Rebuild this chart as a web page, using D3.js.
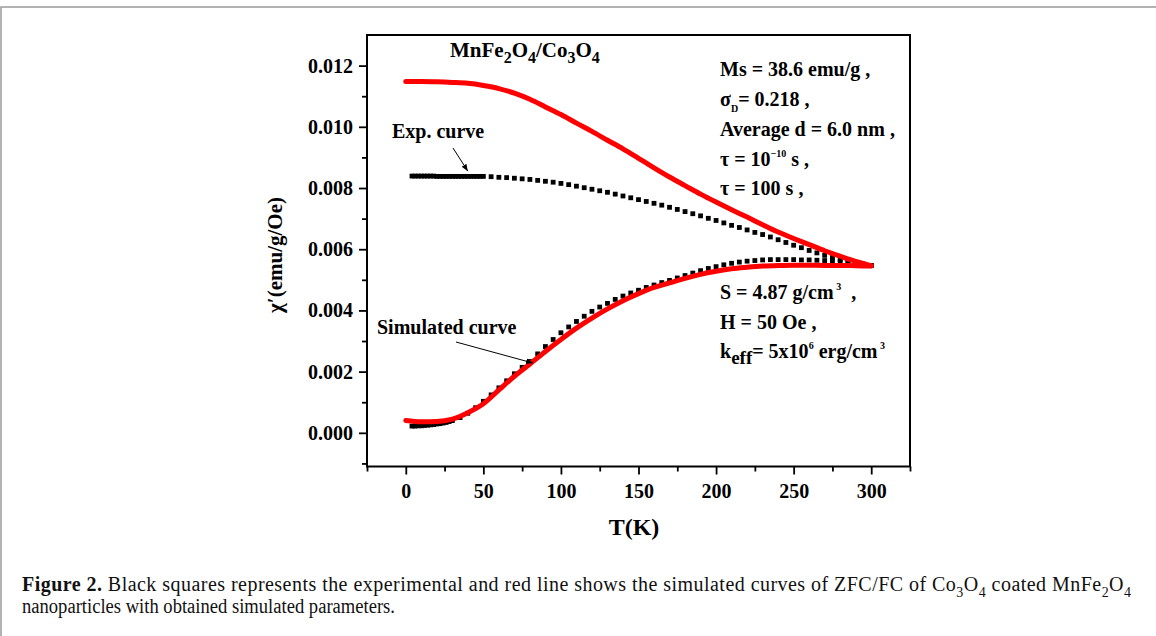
<!DOCTYPE html>
<html lang="en">
<head>
<meta charset="UTF-8" />
<title>ZFC/FC of MnFe2O4/Co3O4</title>
<style>
  body { margin: 0; background: #fff; }
  svg { display: block; }
  text { font-family: "Liberation Serif", "Times New Roman", serif; white-space: pre; }
</style>
</head>
<body>
<svg width="1156" height="636"></svg>
<script src="https://d3js.org/d3.v7.min.js"></script>
<script>
// experimental ZFC (black squares)
const zfcExpT = [4,6,8,10,12,14,16,18,20,22,24,26,28,
  30,35,40,45,50,55,60,65,70,75,80,85,90,95,100,105,110,115,120,125,130,135,140,145,150,
  155,160,165,170,175,180,185,190,195,200,205,210,215,220,225,230,235,240,245,250,255,260,
  265,270,275,280,285,290,295,300];
const zfcExpChi = [0.00022,0.00022,0.00023,0.00023,0.00024,0.00025,0.00026,0.00027,0.00029,0.00030,0.00032,0.00034,0.00037,
  0.00040,0.00050,0.00064,0.00082,0.00103,0.00124,0.00147,0.00170,0.00193,0.00214,0.00233,0.00258,0.00282,0.00305,0.00327,0.00346,0.00364,0.00381,0.00397,0.00411,0.00423,0.00436,0.00447,0.00457,0.00466,
  0.00475,0.00483,0.00491,0.00498,0.00506,0.00514,0.00522,0.00530,0.00537,0.00543,0.00549,0.00554,0.00558,0.00561,0.00563,0.00565,0.00566,0.00566,0.00566,0.00566,0.00565,0.00565,
  0.00564,0.00563,0.00562,0.00560,0.00558,0.00555,0.00551,0.00547];

// experimental FC (black squares)
const fcExpT = [4,6,8,10,12,14,16,18,20,22,24,26,28,30,32,34,36,38,40,42,44,46,48,
  50,55,60,65,70,75,80,85,90,95,100,105,110,115,120,125,130,135,140,145,150,
  155,160,165,170,175,180,185,190,195,200,205,210,215,220,225,230,235,240,245,250,255,260,
  265,270,275,280,285,290,295,300];
const fcExpChi = [0.00839,0.00839,0.00839,0.00839,0.00839,0.00839,0.00839,0.00839,0.00838,0.00838,0.00838,0.00838,0.00838,0.00838,0.00838,0.00838,0.00838,0.00838,0.00838,0.00838,0.00838,0.00838,0.00838,
  0.00838,0.00837,0.00835,0.00834,0.00832,0.00830,0.00828,0.00825,0.00822,0.00819,0.00815,0.00811,0.00806,0.00801,0.00796,0.00791,0.00786,0.00780,0.00774,0.00768,0.00762,
  0.00756,0.00750,0.00744,0.00737,0.00730,0.00723,0.00716,0.00709,0.00701,0.00694,0.00686,0.00678,0.00671,0.00663,0.00655,0.00648,0.00640,0.00631,0.00622,0.00613,0.00605,0.00596,
  0.00588,0.00580,0.00573,0.00566,0.00560,0.00555,0.00551,0.00547];

// simulated curves (red lines)
const simT = [0,10,20,30,40,50,60,70,80,90,100,110,120,130,140,150,160,170,180,190,200,210,220,230,240,250,260,270,280,290,300];
const zfcSimChi = [0.00040,0.00036,0.00037,0.00045,0.00066,0.00095,0.00140,0.00185,0.00225,0.00266,0.00305,0.00342,0.00375,0.00405,0.00432,0.00455,0.00475,0.00490,0.00505,0.00518,0.00528,0.00536,0.00541,0.00545,0.00547,0.00548,0.00548,0.00547,0.00547,0.00546,0.00545];
const fcSimChi = [0.01148,0.01148,0.01147,0.01145,0.01142,0.01135,0.01125,0.01110,0.01090,0.01065,0.01040,0.01012,0.00985,0.00956,0.00928,0.00897,0.00866,0.00836,0.00808,0.00780,0.00754,0.00729,0.00705,0.00680,0.00656,0.00635,0.00615,0.00595,0.00577,0.00560,0.00546];

// axis ticks
const xMajor = [0,50,100,150,200,250,300];
const xMinor = [-25,25,75,125,175,225,275,325];
const yMajor = [0,0.002,0.004,0.006,0.008,0.010,0.012];
const yMinor = [-0.001,0.001,0.003,0.005,0.007,0.009,0.011];

const svg = d3.select('svg');

// outer figure frame (top and left edges)
svg.append('path').attr('d', 'M1,636V7H1156').attr('fill', 'none').attr('stroke', '#999').attr('stroke-width', 1.5);

const x = d3.scaleLinear().domain([-25, 325]).range([367, 910]);
const y = d3.scaleLinear().domain([-0.0011, 0.0130]).range([466.5, 35]);

const tickFont = g => g.selectAll('text')
  .attr('font-size', 20).attr('font-weight', 'bold').attr('fill', '#000')
  .style('font-family', '"Liberation Serif", serif');

const axX = svg.append('g').attr('transform', `translate(0,${y.range()[0]})`)
  .call(d3.axisBottom(x).tickValues(xMajor).tickSize(8).tickSizeOuter(0).tickPadding(9));
const axXm = svg.append('g').attr('transform', `translate(0,${y.range()[0]})`)
  .call(d3.axisBottom(x).tickValues(xMinor).tickSize(5).tickSizeOuter(0).tickFormat(''));
const axY = svg.append('g').attr('transform', `translate(${x.range()[0]},0)`)
  .call(d3.axisLeft(y).tickValues(yMajor).tickSize(8).tickSizeOuter(0).tickPadding(6).tickFormat(d3.format('.3f')));
const axYm = svg.append('g').attr('transform', `translate(${x.range()[0]},0)`)
  .call(d3.axisLeft(y).tickValues(yMinor).tickSize(5).tickSizeOuter(0).tickFormat(''));
[axX, axXm, axY, axYm].forEach(a => {
  a.select('.domain').remove();
  a.selectAll('line').attr('stroke', '#000').attr('stroke-width', 1.8);
  a.call(tickFont);
});

// plot frame
svg.append('rect')
  .attr('x', x.range()[0]).attr('y', y.range()[1])
  .attr('width', x.range()[1] - x.range()[0]).attr('height', y.range()[0] - y.range()[1])
  .attr('fill', 'none').attr('stroke', '#000').attr('stroke-width', 2);

// experimental squares
const sq = 4.8;
const expPts = d3.zip(zfcExpT, zfcExpChi).concat(d3.zip(fcExpT, fcExpChi));
svg.append('g').selectAll('rect').data(expPts).enter().append('rect')
  .attr('x', d => x(d[0]) - sq / 2).attr('y', d => y(d[1]) - sq / 2)
  .attr('width', sq).attr('height', sq).attr('fill', '#000');

// simulated lines
const line = d3.line().x(d => x(d[0])).y(d => y(d[1])).curve(d3.curveMonotoneX);
[zfcSimChi, fcSimChi].forEach(vals => {
  svg.append('path').datum(d3.zip(simT, vals)).attr('d', line)
    .attr('fill', 'none').attr('stroke', '#f00').attr('stroke-width', 5)
    .attr('stroke-linecap', 'round').attr('stroke-linejoin', 'round');
});

// rich text helper: parts = [text, kind, size]
function rich(x0, y0, size, parts, weight) {
  const t = svg.append('text').attr('x', x0).attr('y', y0)
    .attr('font-size', size).attr('font-weight', weight || 'bold').attr('fill', '#000');
  let shift = 0;
  parts.forEach(([s, kind, fs]) => {
    const target = kind === 'sub' ? 0.3 * size : kind === 'sup' ? -0.45 * size : 0;
    const ts = t.append('tspan').text(s).attr('dy', target - shift);
    if (fs) ts.attr('font-size', fs);
    if (kind === 'b') ts.attr('font-weight', 'bold');
    shift = target;
  });
  return t;
}

rich(450, 57, 21, [['MnFe'], ['2', 'sub', 16], ['O'], ['4', 'sub', 16], ['/Co'], ['3', 'sub', 16], ['O'], ['4', 'sub', 16]]);

rich(720, 76, 20, [['Ms = 38.6 emu/g ,']]);
rich(720, 106, 20, [['σ'], ['D', 'sub', 10], ['= 0.218 ,']]);
rich(720, 136, 20, [['Average d = 6.0 nm ,']]);
rich(720, 166, 20, [['τ = 10'], ['−10', 'sup', 10], [' s ,']]);
rich(720, 195, 20, [['τ = 100 s ,']]);

rich(720, 299, 20, [['S = 4.87 g/cm'], [' 3', 'sup', 10], ['  ,']]);
rich(720, 329, 20, [['H = 50 Oe ,']]);
rich(720, 358, 20, [['k'], ['eff', 'sub', 19], ['= 5x10'], ['6', 'sup', 10], [' erg/cm'], [' 3', 'sup', 10]]);

// curve labels with arrows
svg.append('defs').append('marker').attr('id', 'ah')
  .attr('viewBox', '0 0 10 10').attr('refX', 10).attr('refY', 5)
  .attr('markerWidth', 7).attr('markerHeight', 7).attr('orient', 'auto')
  .append('path').attr('d', 'M0,1L10,5L0,9Z').attr('fill', '#000');

rich(392, 138, 20, [['Exp. curve']]);
svg.append('line').attr('x1', 453).attr('y1', 148).attr('x2', x(40)).attr('y2', y(0.00855))
  .attr('stroke', '#000').attr('stroke-width', 1).attr('marker-end', 'url(#ah)');

rich(377, 334, 20, [['Simulated curve']]);
svg.append('line').attr('x1', 456).attr('y1', 342).attr('x2', x(82)).attr('y2', y(0.00228))
  .attr('stroke', '#000').attr('stroke-width', 1).attr('marker-end', 'url(#ah)');

// axis titles
svg.append('text').attr('transform', 'translate(282,255) rotate(-90)')
  .attr('text-anchor', 'middle').attr('font-size', 21).attr('font-weight', 'bold')
  .text('χ\u2032(emu/g/Oe)');
svg.append('text').attr('x', 634).attr('y', 535).attr('text-anchor', 'middle')
  .attr('font-size', 24).attr('font-weight', 'bold').text('T(K)');

// caption
const cap1 = rich(22, 591, 20, [['Figure 2.', 'b'], [' Black squares represents the experimental and red line shows the simulated curves of ZFC/FC of Co'],
  ['3', 'sub', 14], ['O'], ['4', 'sub', 14], [' coated MnFe'], ['2', 'sub', 14], ['O'], ['4', 'sub', 14]], 'normal');
cap1.attr('fill', '#111').attr('textLength', 1109).attr('lengthAdjust', 'spacing');
svg.append('text').attr('x', 22).attr('y', 613).attr('font-size', 20).attr('fill', '#111')
  .attr('textLength', 373).attr('lengthAdjust', 'spacingAndGlyphs')
  .text('nanoparticles with obtained simulated parameters.');
</script>
</body>
</html>
